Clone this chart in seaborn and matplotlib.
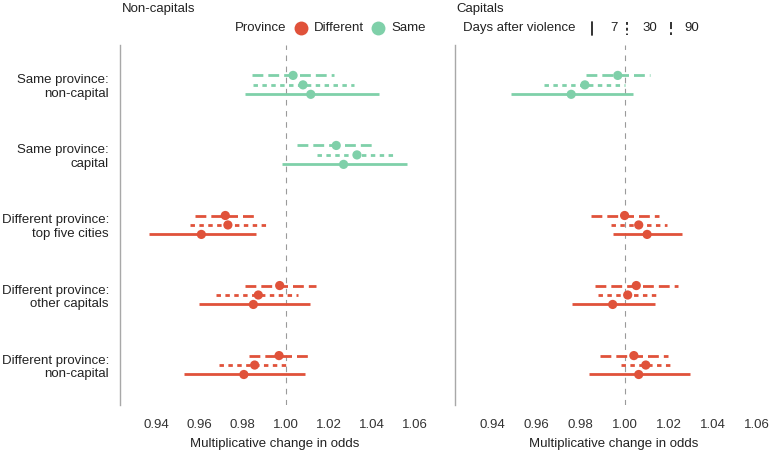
import numpy as np
import pandas as pd
import matplotlib
matplotlib.use("Agg")
import matplotlib.pyplot as plt
from matplotlib.lines import Line2D
import seaborn as sns

# categories (top to bottom) and which province group they belong to
categories = [
    "Same province:\nnon-capital",
    "Same province:\ncapital",
    "Different province:\ntop five cities",
    "Different province:\nother capitals",
    "Different province:\nnon-capital",
]
province = ["Same", "Same", "Different", "Different", "Different"]
windows = [90, 30, 7]  # top, middle, bottom row inside a category

# Non-capitals panel
nc_est_7 = [1.0116, 1.0268, 0.9609, 0.9850, 0.9806]
nc_lo_7 = [0.9810, 0.9985, 0.9368, 0.9599, 0.9530]
nc_hi_7 = [1.0431, 1.0560, 0.9860, 1.0112, 1.0088]
nc_est_30 = [1.0080, 1.0330, 0.9732, 0.9873, 0.9856]
nc_lo_30 = [0.9850, 1.0147, 0.9555, 0.9679, 0.9690]
nc_hi_30 = [1.0318, 1.0516, 0.9908, 1.0057, 1.0020]
nc_est_90 = [1.0034, 1.0234, 0.9720, 0.9972, 0.9969]
nc_lo_90 = [0.9845, 1.0054, 0.9578, 0.9809, 0.9829]
nc_hi_90 = [1.0225, 1.0408, 0.9856, 1.0138, 1.0108]

# Capitals panel (no same-province capital row)
c_est_7 = [0.9758, np.nan, 1.0102, 0.9946, 1.0064]
c_lo_7 = [0.9487, np.nan, 0.9946, 0.9762, 0.9839]
c_hi_7 = [1.0036, np.nan, 1.0262, 1.0138, 1.0296]
c_est_30 = [0.9820, np.nan, 1.0064, 1.0014, 1.0096]
c_lo_30 = [0.9637, np.nan, 0.9940, 0.9880, 0.9985]
c_hi_30 = [1.0000, np.nan, 1.0190, 1.0147, 1.0207]
c_est_90 = [0.9969, np.nan, 1.0000, 1.0053, 1.0042]
c_lo_90 = [0.9823, np.nan, 0.9850, 0.9865, 0.9888]
c_hi_90 = [1.0117, np.nan, 1.0156, 1.0243, 1.0198]

xticks = [0.94, 0.96, 0.98, 1.00, 1.02, 1.04, 1.06]

# build a long table
rows = []
panels = {
    "Non-capitals": {7: (nc_est_7, nc_lo_7, nc_hi_7), 30: (nc_est_30, nc_lo_30, nc_hi_30),
                     90: (nc_est_90, nc_lo_90, nc_hi_90)},
    "Capitals": {7: (c_est_7, c_lo_7, c_hi_7), 30: (c_est_30, c_lo_30, c_hi_30),
                 90: (c_est_90, c_lo_90, c_hi_90)},
}
offset = {90: -0.135, 30: 0.0, 7: 0.135}
for panel, d in panels.items():
    for w, (est, lo, hi) in d.items():
        for i, cat in enumerate(categories):
            rows.append(dict(panel=panel, window=w, category=cat, province=province[i],
                             y=i + offset[w], est=est[i], lo=lo[i], hi=hi[i]))
df = pd.DataFrame(rows).dropna()

palette = {"Different": "#e0523a", "Same": "#7fd0a9"}
linestyles = {7: "-", 30: (0, (1.6, 1.6)), 90: (0, (3.9, 1.8))}

sns.set_style("white")
plt.rcParams["font.family"] = ["Liberation Sans", "DejaVu Sans"]
plt.rcParams["font.size"] = 9.5

fig = plt.figure(figsize=(7.74, 4.54), dpi=100)
ax1 = fig.add_axes([0.155, 0.108, 0.401, 0.793])
ax2 = fig.add_axes([0.588, 0.108, 0.41, 0.793])

for ax, panel in [(ax1, "Non-capitals"), (ax2, "Capitals")]:
    sub = df[df.panel == panel]
    ax.axvline(1.0, color="#9a9a9a", lw=0.8, ls=(0, (5, 5)), zorder=1)
    for _, r in sub.iterrows():
        ax.plot([r.lo, r.hi], [r.y, r.y], color=palette[r.province],
                lw=2.0, ls=linestyles[r.window], solid_capstyle="butt", zorder=2)
    sns.scatterplot(data=sub, x="est", y="y", hue="province", palette=palette,
                    s=44, edgecolor="none", legend=False, ax=ax, zorder=3)
    ax.set_xlim(0.9232, 1.067)
    ax.set_ylim(4.57, -0.57)
    ax.set_xticks(xticks)
    ax.set_xticklabels([f"{t:.2f}" for t in xticks], color="#333333")
    ax.set_xlabel("Multiplicative change in odds", color="#222222", labelpad=5)
    ax.set_ylabel("")
    for s in ["top", "right", "bottom"]:
        ax.spines[s].set_visible(False)
    ax.spines["left"].set_color("#a8a8a8")
    ax.spines["left"].set_linewidth(1.0)
    ax.tick_params(axis="x", length=4, color="#a8a8a8", width=0.8, pad=6)

ax1.set_yticks(range(len(categories)))
ax1.set_yticklabels(categories, color="#222222", ha="right", linespacing=1.15)
ax1.tick_params(axis="y", length=4, color="#a8a8a8", width=0.8, pad=4)
ax2.set_yticks([])

# panel titles
fig.text(122 / 774, 1 - 9 / 454, "Non-capitals", ha="left", va="center", color="#222222")
fig.text(456 / 774, 1 - 9 / 454, "Capitals", ha="left", va="center", color="#222222")

# legend row
ly = 1 - 28 / 454
fig.text(235 / 774, ly, "Province", ha="left", va="center", color="#222222")
for xpx, key, label in [(301, "Different", "Different"), (378, "Same", "Same")]:
    fig.add_artist(Line2D([xpx / 774], [ly], marker="o", ms=10, color=palette[key],
                          markeredgewidth=0, transform=fig.transFigure))
    fig.text((xpx + 13) / 774, ly, label, ha="left", va="center", color="#222222")

fig.text(463 / 774, ly, "Days after violence", ha="left", va="center", color="#222222")
for xpx, txpx, w, label in [(592, 610, 7, "7"), (627, 642, 30, "30"), (671, 684, 90, "90")]:
    fig.add_artist(Line2D([xpx / 774, xpx / 774], [ly + 6 / 454, ly - 7 / 454],
                          color="#222222", lw=1.3, ls=linestyles[w],
                          transform=fig.transFigure))
    fig.text(txpx / 774, ly, label, ha="left", va="center", color="#222222")

fig.savefig("out.png", dpi=100)
